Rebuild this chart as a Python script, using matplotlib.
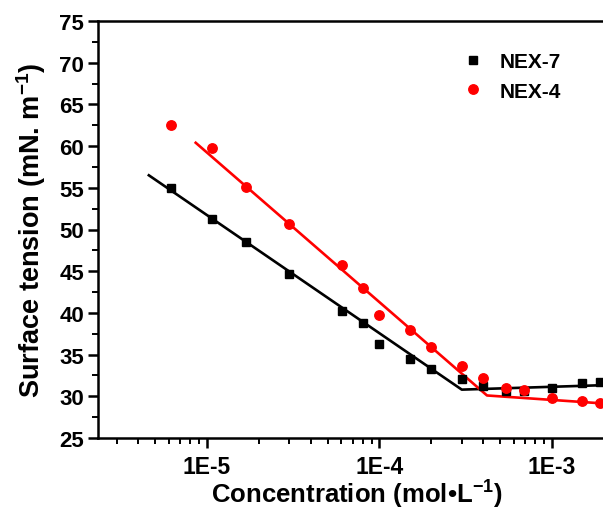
import numpy as np
import matplotlib as mpl
import matplotlib.pyplot as plt
from matplotlib.ticker import LogLocator, FixedLocator, MultipleLocator, FuncFormatter

mpl.rcParams['font.family'] = ['Liberation Sans', 'DejaVu Sans']
mpl.rcParams['font.weight'] = 'bold'
mpl.rcParams['mathtext.fontset'] = 'custom'
mpl.rcParams['mathtext.rm'] = 'Liberation Sans:bold'
mpl.rcParams['mathtext.bf'] = 'Liberation Sans:bold'
mpl.rcParams['mathtext.default'] = 'bf'

# measured data (concentration in mol/L, surface tension in mN/m)
conc = [6.2e-6, 1.07e-5, 1.68e-5, 3.0e-5, 6.1e-5, 8.0e-5, 1.0e-4, 1.5e-4,
        2.0e-4, 3.0e-4, 4.0e-4, 5.4e-4, 6.9e-4, 1.0e-3, 1.5e-3, 1.9e-3]
nex7 = [55.0, 51.3, 48.5, 44.7, 40.2, 38.8, 36.3, 34.5,
        33.3, 32.1, 31.2, 30.6, 30.6, 31.0, 31.6, 31.7]
nex4 = [62.5, 59.8, 55.1, 50.6, 45.7, 43.0, 39.8, 37.9,
        35.9, 33.6, 32.2, 31.0, 30.8, 29.8, 29.4, 29.2]

# fitted lines (two segments each, meeting at the CMC)
fit7_x = [4.6e-6, 3.0e-4, 2.5e-3]
fit7_y = [56.5, 30.8, 31.4]
fit4_x = [8.6e-6, 4.2e-4, 2.5e-3]
fit4_y = [60.4, 30.1, 29.0]

xticks = [1e-5, 1e-4, 1e-3]
xticklabels = ['1E-5', '1E-4', '1E-3']

fig = plt.figure(figsize=(6.03, 5.10), dpi=100)
# axes run past the right edge, the original figure is cropped there
ax = fig.add_axes([98 / 603, 71 / 510, 628 / 603, 417 / 510])

ax.plot(fit7_x, fit7_y, '-', color='black', lw=1.9, zorder=2)
ax.plot(fit4_x, fit4_y, '-', color='red', lw=1.9, zorder=2)
ax.plot(conc, nex7, 's', color='black', ms=6.2, ls='none', label='NEX-7', zorder=3)
ax.plot(conc, nex4, 'o', color='red', ms=6.8, ls='none', label='NEX-4', zorder=3)

ax.set_xscale('log')
ax.set_xlim(10 ** -5.632, 10 ** -1.991)
ax.set_ylim(25, 75)

ax.xaxis.set_major_locator(FixedLocator(xticks + [1e-2]))
ax.xaxis.set_major_formatter(FuncFormatter(
    lambda v, p: xticklabels[xticks.index(v)] if v in xticks else ''))
ax.xaxis.set_minor_locator(LogLocator(base=10, subs=np.arange(2, 10)))
ax.xaxis.set_minor_formatter(FuncFormatter(lambda v, p: ''))
ax.yaxis.set_major_locator(MultipleLocator(5))
ax.yaxis.set_minor_locator(MultipleLocator(2.5))

for s in ax.spines.values():
    s.set_linewidth(1.8)
ax.spines['right'].set_visible(False)

ax.tick_params(which='major', direction='out', length=7, width=1.8, pad=3)
ax.tick_params(axis='x', which='major', labelsize=16.5, pad=5)
ax.tick_params(axis='y', which='major', labelsize=16)
ax.tick_params(which='minor', direction='out', length=4, width=1.4)
ax.tick_params(top=False, right=False, which='both')
for lab in ax.get_xticklabels() + ax.get_yticklabels():
    lab.set_fontweight('bold')

ax.set_xlabel('Concentration (mol\u2022L$^{-1}$)', fontsize=18.5,
              fontweight='bold', labelpad=0, x=0.412)
ax.set_ylabel(r'Surface tension (mN. m$^{-1}$)', fontsize=19.5,
              fontweight='bold', labelpad=8)

ax.legend(loc='upper left', bbox_to_anchor=((433 - 98) / 628, 0.97),
          frameon=False, handletextpad=0.3, labelspacing=0.5,
          prop={'weight': 'bold', 'size': 15})

plt.savefig('out.png', dpi=100)
